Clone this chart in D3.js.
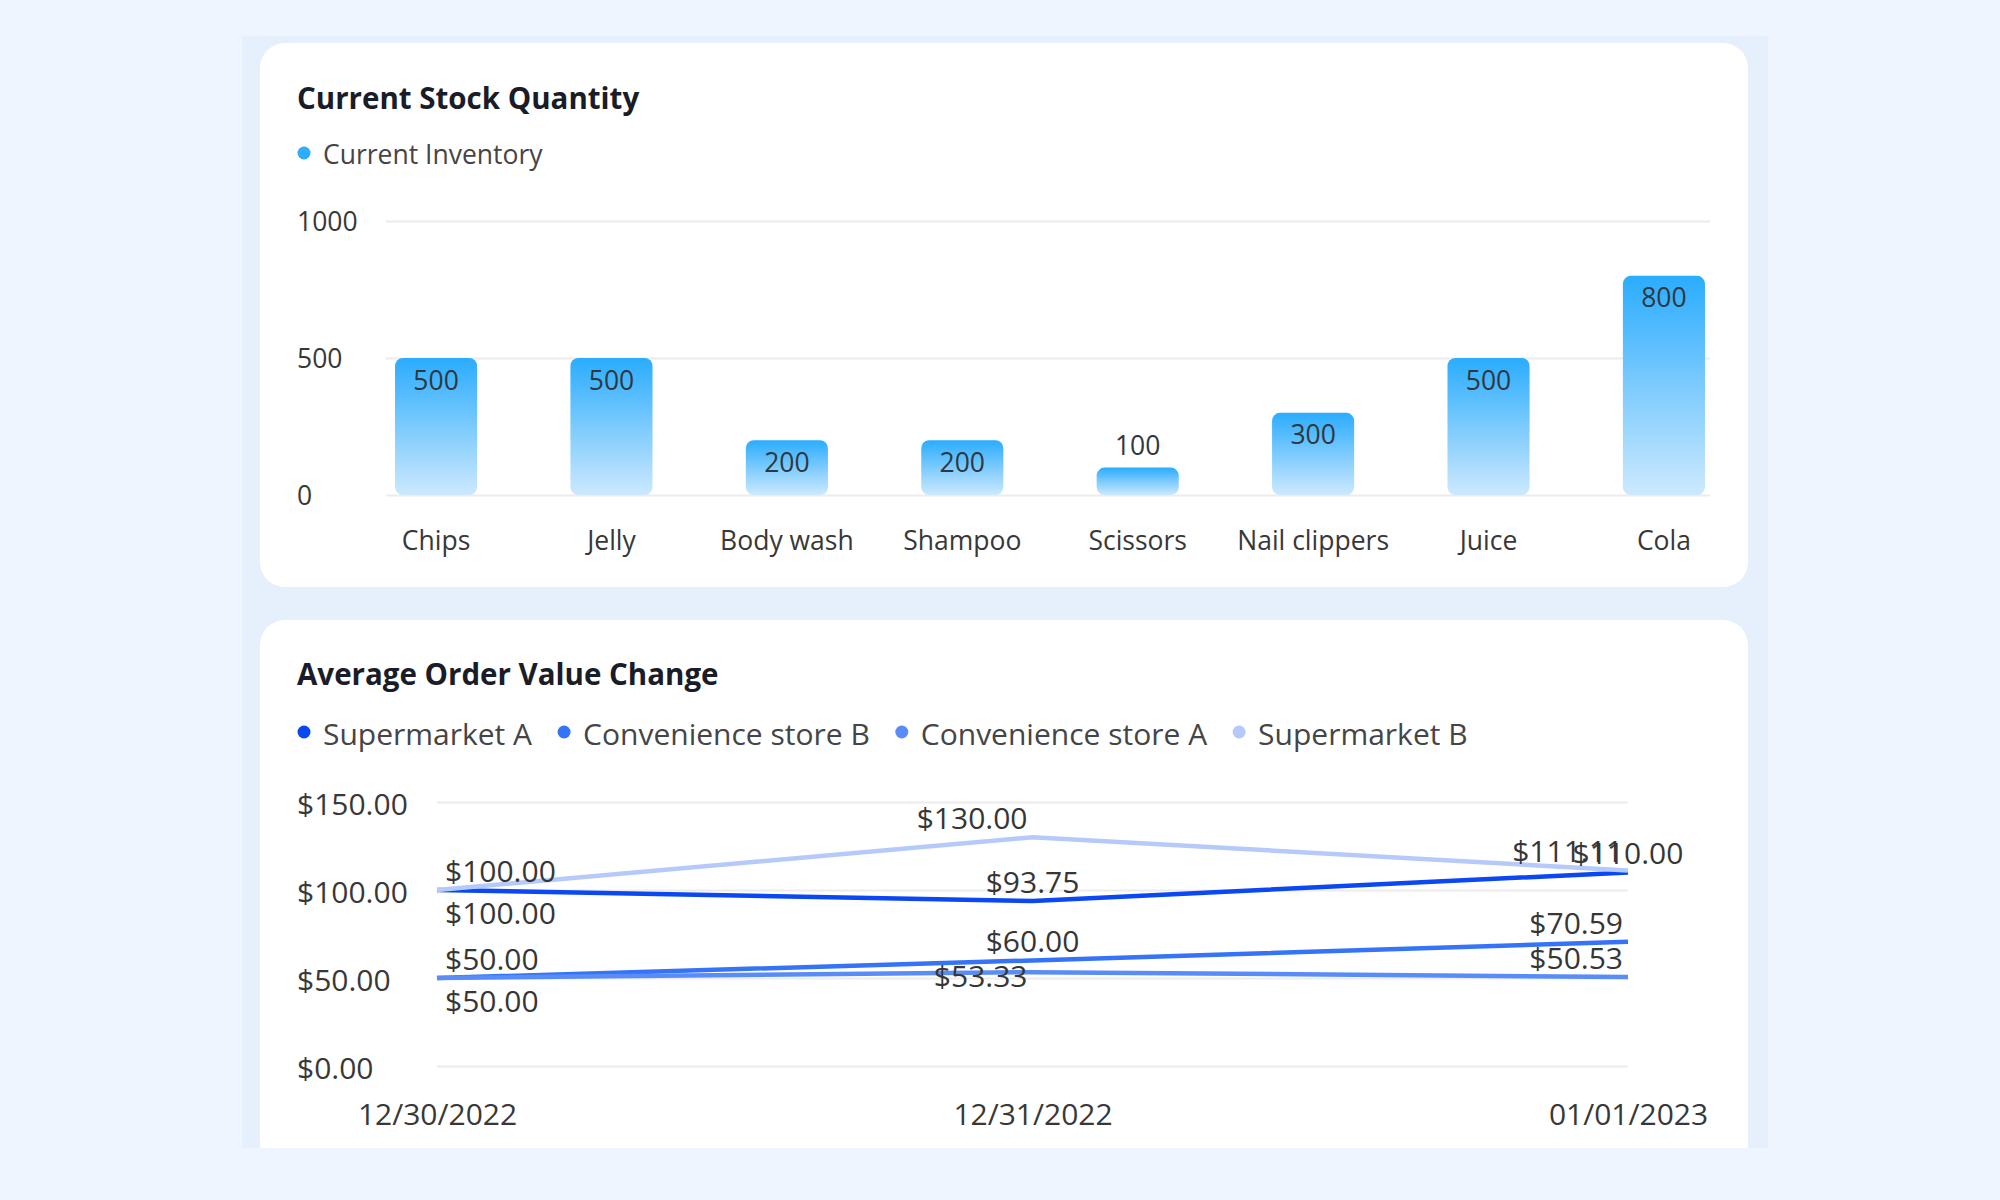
<!DOCTYPE html>
<html>
<head>
<meta charset="utf-8">
<script src="https://cdn.jsdelivr.net/npm/d3@7"></script>
<style>
  html, body { margin: 0; padding: 0; background: #eff5fe; }
  svg { display: block; }
  text { font-family: "Open Sans", "Noto Sans", sans-serif; }
</style>
</head>
<body>
<div id="chart"></div>
<script>
// ---- data ----
const products = ["Chips", "Jelly", "Body wash", "Shampoo", "Scissors", "Nail clippers", "Juice", "Cola"];
const inventory = [500, 500, 200, 200, 100, 300, 500, 800];
const stockTicks = [0, 500, 1000];

const dates = ["12/30/2022", "12/31/2022", "01/01/2023"];
const storeNames = ["Supermarket A", "Convenience store B", "Convenience store A", "Supermarket B"];
const supermarketA = [100, 93.75, 110];
const convenienceB = [50, 60, 70.59];
const convenienceA = [50, 53.33, 50.53];
const supermarketB = [100, 130, 111.11];
const valueTicks = [0, 50, 100, 150];

const storeColors = ["#0b47f2", "#3574f8", "#5a8cf8", "#b5c9fb"];
// where each point label sits (keeps labels from overlapping)
const labelPlacement = [
  ["above start", "above", "above"],
  ["above start", "above", "above end"],
  ["below start", "on end", "above end"],
  ["below start", "above end", "above end"]
];

// ---- page ----
const W = 2000, H = 1200;
const svg = d3.select("#chart").append("svg")
  .attr("width", W)
  .attr("height", H);

const defs = svg.append("defs");
defs.append("clipPath").attr("id", "panelClip")
  .append("rect")
  .attr("x", 242).attr("y", 36)
  .attr("width", 1526).attr("height", 1112);

const grad = defs.append("linearGradient")
  .attr("id", "barGrad")
  .attr("x1", 0).attr("y1", 0).attr("x2", 0).attr("y2", 1);
grad.append("stop").attr("offset", "0%").attr("stop-color", "#2aacfd");
grad.append("stop").attr("offset", "100%").attr("stop-color", "#cde9fd");

svg.append("rect")
  .attr("x", 242).attr("y", 36)
  .attr("width", 1526).attr("height", 1112)
  .attr("fill", "#e6f0fc");

const panel = svg.append("g").attr("clip-path", "url(#panelClip)");

panel.append("rect")
  .attr("x", 260).attr("y", 43)
  .attr("width", 1488).attr("height", 544)
  .attr("rx", 25)
  .attr("fill", "#fff");

panel.append("rect")
  .attr("x", 260).attr("y", 620)
  .attr("width", 1488).attr("height", 600)
  .attr("rx", 25)
  .attr("fill", "#fff");

function styleAxis(g) {
  g.select(".domain").remove();
  g.selectAll(".tick line").attr("stroke", "#ececec").attr("stroke-width", 2);
  g.selectAll(".tick text").attr("fill", "#383838");
}

// ---- card 1: bar chart ----
panel.append("text")
  .attr("x", 297).attr("y", 97)
  .attr("dominant-baseline", "central")
  .attr("fill", "#1a1c28")
  .style("font-size", "29.5px")
  .style("font-weight", "700")
  .text("Current Stock Quantity");

const leg1 = panel.append("g");
leg1.append("circle").attr("cx", 304).attr("cy", 153).attr("r", 6.5).attr("fill", "#2daefd");
leg1.append("text")
  .attr("x", 323).attr("y", 154)
  .attr("dominant-baseline", "central")
  .attr("fill", "#454545")
  .style("font-size", "26.5px")
  .text("Current Inventory");

const xBar = d3.scaleBand()
  .domain(products)
  .range([388, 1712])
  .paddingInner(0.532)
  .paddingOuter(0.04);

const yBar = d3.scaleLinear()
  .domain([0, 1000])
  .range([495, 221]);

panel.append("g")
  .attr("transform", "translate(386,0)")
  .call(d3.axisLeft(yBar).tickValues(stockTicks).tickFormat(d3.format("d"))
    .tickSize(-(1710 - 386)).tickPadding(0))
  .call(styleAxis)
  .call(g => g.selectAll(".tick text")
    .attr("x", 297 - 386)
    .attr("dy", "0.36em")
    .attr("text-anchor", "start")
    .style("font-size", "26.5px"));

panel.append("g")
  .attr("transform", "translate(0,495)")
  .call(d3.axisBottom(xBar).tickSize(0))
  .call(styleAxis)
  .call(g => g.selectAll(".tick text")
    .attr("y", 45)
    .attr("dy", "0.36em")
    .style("font-size", "26.5px"));

const bars = panel.append("g");
products.forEach((p, i) => {
  const top = yBar(inventory[i]);
  const h = yBar(0) - top;
  bars.append("rect")
    .attr("x", xBar(p))
    .attr("y", top)
    .attr("width", xBar.bandwidth())
    .attr("height", h)
    .attr("rx", 8)
    .attr("fill", "url(#barGrad)");
  bars.append("text")
    .attr("x", xBar(p) + xBar.bandwidth() / 2)
    .attr("y", h > 50 ? top + 22 : top - 22)
    .attr("dy", "0.36em")
    .attr("text-anchor", "middle")
    .attr("fill", "#303741")
    .style("font-size", "26.5px")
    .text(inventory[i]);
});

// ---- card 2: line chart ----
panel.append("text")
  .attr("x", 297).attr("y", 673)
  .attr("dominant-baseline", "central")
  .attr("fill", "#1a1c28")
  .style("font-size", "29.5px")
  .style("font-weight", "700")
  .text("Average Order Value Change");

const leg2 = panel.append("g");
let lx = 304;
storeNames.forEach((name, i) => {
  leg2.append("circle").attr("cx", lx).attr("cy", 732).attr("r", 6.5).attr("fill", storeColors[i]);
  const t = leg2.append("text")
    .attr("x", lx + 19).attr("y", 733)
    .attr("dominant-baseline", "central")
    .attr("fill", "#454545")
    .style("font-size", "30px")
    .text(name);
  lx += 19 + t.node().getComputedTextLength() + 32;
});

const xLine = d3.scalePoint()
  .domain(dates)
  .range([437, 1628]);

const yLine = d3.scaleLinear()
  .domain([0, 150])
  .range([1066, 802]);

const money = d3.format("$.2f");

panel.append("g")
  .attr("transform", "translate(437,0)")
  .call(d3.axisLeft(yLine).tickValues(valueTicks).tickFormat(money)
    .tickSize(-(1628 - 437)).tickPadding(0))
  .call(styleAxis)
  .call(g => g.selectAll(".tick text")
    .attr("x", 297 - 437)
    .attr("dy", "0.42em")
    .attr("text-anchor", "start")
    .style("font-size", "30px"));

panel.append("g")
  .attr("transform", "translate(0,1066)")
  .call(d3.axisBottom(xLine).tickSize(0))
  .call(styleAxis)
  .call(g => g.selectAll(".tick text")
    .attr("y", 48)
    .attr("dy", "0.36em")
    .style("font-size", "30px"));

const series = [supermarketA, convenienceB, convenienceA, supermarketB];
const line = d3.line()
  .x((d, i) => xLine(dates[i]))
  .y(d => yLine(d));

const lines = panel.append("g");
series.forEach((vals, s) => {
  lines.append("path")
    .datum(vals)
    .attr("d", line)
    .attr("fill", "none")
    .attr("stroke", storeColors[s])
    .attr("stroke-width", 4.5)
    .attr("stroke-linejoin", "round");
});

const labels = panel.append("g");
series.forEach((vals, s) => {
  vals.forEach((v, i) => {
    const place = labelPlacement[s][i];
    const px = xLine(dates[i]);
    const py = yLine(v);
    let ty = py - 19, tx = px, anchor = "middle";
    if (place.includes("below")) ty = py + 23;
    if (place.includes("on")) ty = py + 4;
    if (place.includes("start")) { tx = px + 8; anchor = "start"; }
    if (place.includes("end")) { tx = px - 5; anchor = "end"; }
    labels.append("text")
      .attr("x", tx).attr("y", ty)
      .attr("dy", "0.36em")
      .attr("text-anchor", anchor)
      .attr("fill", "#363636")
      .style("font-size", "30px")
      .text(money(v));
  });
});
</script>
</body>
</html>
